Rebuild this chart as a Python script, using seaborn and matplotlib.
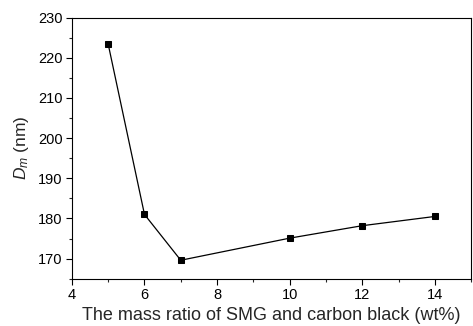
import matplotlib
matplotlib.use("Agg")
import matplotlib.pyplot as plt
from matplotlib.ticker import MultipleLocator
import seaborn as sns
import pandas as pd

# datos
mass_ratio = [5, 6, 7, 10, 12, 14]
diameter = [223.4, 181.0, 169.6, 175.1, 178.2, 180.5]

df = pd.DataFrame({"ratio": mass_ratio, "dm": diameter})

sns.set_style("ticks")
plt.rcParams["font.family"] = ["Liberation Sans", "DejaVu Sans"]
plt.rcParams["mathtext.fontset"] = "custom"
plt.rcParams["mathtext.it"] = "Liberation Sans:italic"
plt.rcParams["mathtext.rm"] = "Liberation Sans"

fig = plt.figure(figsize=(4.73, 3.26), dpi=100)
ax = fig.add_axes([0.152, 0.145, 0.844, 0.801])

sns.lineplot(data=df, x="ratio", y="dm", ax=ax, color="black", linewidth=0.9,
             marker="s", markersize=5, markeredgecolor="black")

ax.set_xlim(4, 15)
ax.set_ylim(165, 230)
ax.xaxis.set_major_locator(MultipleLocator(2))
ax.xaxis.set_minor_locator(MultipleLocator(1))
ax.yaxis.set_major_locator(MultipleLocator(10))
ax.yaxis.set_minor_locator(MultipleLocator(5))
ax.tick_params(which="major", direction="out", length=4, width=0.8, labelsize=10.5,
               colors="black", pad=2.5)
ax.tick_params(which="minor", direction="out", length=2, width=0.8)
for s in ax.spines.values():
    s.set_linewidth(0.8)
    s.set_color("black")

ax.set_xlabel("The mass ratio of SMG and carbon black (wt%)", fontsize=13, labelpad=4)
ax.set_ylabel("$D_m$ (nm)", fontsize=12.5, labelpad=5)

fig.savefig("out.png", dpi=100)
